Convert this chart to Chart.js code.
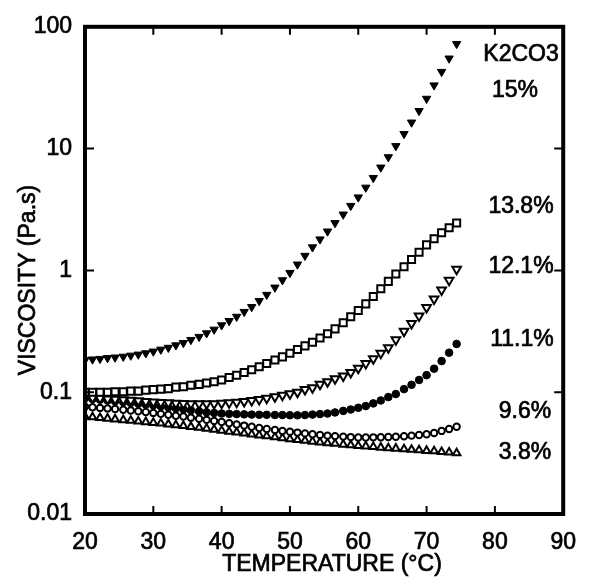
<!DOCTYPE html>
<html>
<head>
<meta charset="utf-8">
<title>Viscosity vs temperature</title>
<script src="https://cdn.jsdelivr.net/npm/chart.js@4.4.1/dist/chart.umd.min.js"></script>
<style>
  body { margin: 0; background: #fff; }
  canvas { display: block; }
</style>
</head>
<body>
<canvas id="viscChart" width="591" height="579"></canvas>
<script>

var temps = [
  20.0, 21.1, 22.2, 23.3, 24.4, 25.6, 26.7, 27.8, 28.9, 30.0,
  31.1, 32.2, 33.3, 34.4, 35.5, 36.7, 37.8, 38.9, 40.0, 41.1,
  42.2, 43.3, 44.4, 45.5, 46.6, 47.8, 48.9, 50.0, 51.1, 52.2,
  53.3, 54.4, 55.5, 56.6, 57.8, 58.9, 60.0, 61.1, 62.2, 63.3,
  64.4, 65.5, 66.7, 67.8, 68.9, 70.0, 71.1, 72.2, 73.3, 74.4
];

// viscosity in Pa.s for each K2CO3 concentration
var visc15 = [
  0.184, 0.186, 0.188, 0.191, 0.193, 0.196, 0.200, 0.204, 0.209, 0.216,
  0.224, 0.232, 0.243, 0.254, 0.269, 0.285, 0.305, 0.327, 0.355, 0.385,
  0.417, 0.457, 0.501, 0.562, 0.631, 0.724, 0.832, 0.955, 1.12, 1.32,
  1.55, 1.80, 2.09, 2.45, 2.88, 3.39, 3.98, 4.79, 5.75, 7.00,
  8.51, 10.5, 13.2, 16.4, 20.4, 25.7, 33.1, 42.7, 55.0, 72.4
];
var visc138 = [
  0.100, 0.100, 0.100, 0.100, 0.101, 0.101, 0.102, 0.102, 0.104, 0.105,
  0.106, 0.107, 0.110, 0.111, 0.114, 0.116, 0.119, 0.122, 0.126, 0.132,
  0.138, 0.145, 0.153, 0.162, 0.172, 0.184, 0.195, 0.209, 0.224, 0.240,
  0.257, 0.279, 0.302, 0.331, 0.372, 0.417, 0.468, 0.531, 0.610, 0.708,
  0.813, 0.933, 1.07, 1.23, 1.41, 1.62, 1.82, 2.04, 2.24, 2.45
];
var visc121 = [
  0.0912, 0.0902, 0.0891, 0.0881, 0.0875, 0.0867, 0.0857, 0.0849, 0.0839, 0.0832,
  0.0824, 0.0818, 0.0813, 0.0807, 0.0804, 0.0802, 0.0802, 0.0805, 0.0811, 0.0818,
  0.0828, 0.0839, 0.0855, 0.0873, 0.0893, 0.0916, 0.0942, 0.0970, 0.100, 0.105,
  0.109, 0.116, 0.122, 0.129, 0.136, 0.145, 0.157, 0.172, 0.188, 0.209,
  0.232, 0.269, 0.316, 0.367, 0.422, 0.495, 0.582, 0.692, 0.832, 1.02
];
var visc111 = [
  0.0891, 0.0879, 0.0867, 0.0855, 0.0843, 0.0830, 0.0817, 0.0805, 0.0793, 0.0780,
  0.0766, 0.0752, 0.0738, 0.0724, 0.0711, 0.0697, 0.0684, 0.0675, 0.0668, 0.0664,
  0.0661, 0.0658, 0.0655, 0.0653, 0.0652, 0.0650, 0.0649, 0.0647, 0.0646, 0.0649,
  0.0655, 0.0661, 0.0668, 0.0682, 0.0702, 0.0721, 0.0745, 0.0769, 0.0809, 0.0855,
  0.0912, 0.0966, 0.106, 0.115, 0.126, 0.138, 0.156, 0.180, 0.211, 0.249
];
var visc96 = [
  0.0759, 0.0752, 0.0743, 0.0736, 0.0728, 0.0718, 0.0708, 0.0697, 0.0687, 0.0676,
  0.0664, 0.0653, 0.0641, 0.0631, 0.0618, 0.0605, 0.0593, 0.0581, 0.0569, 0.0556,
  0.0543, 0.0532, 0.0520, 0.0508, 0.0499, 0.0489, 0.0481, 0.0473, 0.0466, 0.0459,
  0.0452, 0.0446, 0.0440, 0.0436, 0.0432, 0.0428, 0.0425, 0.0425, 0.0426, 0.0427,
  0.0429, 0.0431, 0.0435, 0.0440, 0.0445, 0.0452, 0.0462, 0.0481, 0.0499, 0.0521
];
var visc38 = [
  0.0631, 0.0624, 0.0615, 0.0608, 0.0600, 0.0592, 0.0585, 0.0577, 0.0570, 0.0562,
  0.0555, 0.0546, 0.0537, 0.0530, 0.0521, 0.0512, 0.0504, 0.0494, 0.0484, 0.0475,
  0.0468, 0.0459, 0.0451, 0.0443, 0.0436, 0.0428, 0.0420, 0.0412, 0.0406, 0.0400,
  0.0394, 0.0388, 0.0382, 0.0378, 0.0372, 0.0368, 0.0363, 0.0360, 0.0356, 0.0352,
  0.0348, 0.0345, 0.0341, 0.0338, 0.0335, 0.0331, 0.0328, 0.0324, 0.0321, 0.0316
];

var xTickValues = [20, 30, 40, 50, 60, 70, 80, 90];
var yTickValues = [0.01, 0.1, 1, 10, 100];
var seriesNames = ['15%', '13.8%', '12.1%', '11.1%', '9.6%', '3.8%'];

var fontFamily = '"Liberation Sans", Arial, Helvetica, sans-serif';

function toPoints(values) {
  var pts = [];
  for (var i = 0; i < temps.length; i++) {
    pts.push({ x: temps[i], y: values[i] });
  }
  return pts;
}

function makeSet(name, values, style, rotation, radius, filled) {
  return {
    label: name,
    data: toPoints(values),
    showLine: false,
    pointStyle: style,
    rotation: rotation,
    pointRadius: radius,
    pointBorderWidth: filled ? 1 : 2,
    pointBorderColor: '#000',
    pointBackgroundColor: filled ? '#000' : '#fff'
  };
}

function boldText(c, text, x, y) {
  c.fillText(text, x, y);
  c.strokeText(text, x, y);
}

// frame, inward ticks, axis titles and curve labels
var framePlugin = {
  id: 'frame',
  afterDatasetsDraw: function(chart) {
    var c = chart.ctx;
    var a = chart.chartArea;
    var xs = chart.scales.x;
    var ys = chart.scales.y;
    c.save();
    c.strokeStyle = '#000';
    c.lineWidth = 2;
    var i, px, py;
    for (i = 1; i < xTickValues.length - 1; i++) {
      px = xs.getPixelForValue(xTickValues[i]);
      c.beginPath();
      c.moveTo(px, a.bottom); c.lineTo(px, a.bottom - 8);
      c.moveTo(px, a.top); c.lineTo(px, a.top + 8);
      c.stroke();
    }
    for (i = 1; i < yTickValues.length - 1; i++) {
      py = ys.getPixelForValue(yTickValues[i]);
      c.beginPath();
      c.moveTo(a.left, py); c.lineTo(a.left + 9, py);
      c.moveTo(a.right, py); c.lineTo(a.right - 9, py);
      c.stroke();
    }
    c.lineWidth = 4;
    c.strokeRect(a.left, a.top, a.right - a.left, a.bottom - a.top);
    c.restore();
  },
  afterDraw: function(chart) {
    var c = chart.ctx;
    c.save();
    c.fillStyle = '#000';
    c.strokeStyle = '#000';
    c.lineWidth = 0.7;
    c.textAlign = 'center';
    c.textBaseline = 'middle';
    c.font = '23px ' + fontFamily;
    boldText(c, 'TEMPERATURE (\u00B0C)', 332, 565);
    c.save();
    c.translate(29, 280);
    c.rotate(-Math.PI / 2);
    boldText(c, 'VISCOSITY (Pa.s)', 0, 0);
    c.restore();

    boldText(c, 'K2CO3', 521, 55);
    var labelPos = [[515, 91], [521, 207], [521, 267], [522, 340], [525, 412], [525, 453]];
    for (var i = 0; i < seriesNames.length; i++) {
      boldText(c, seriesNames[i], labelPos[i][0], labelPos[i][1]);
    }
    c.restore();
  }
};

var ctx = document.getElementById('viscChart').getContext('2d');

var viscChart = new Chart(ctx, {
  type: 'scatter',
  data: {
    datasets: [
      makeSet(seriesNames[0], visc15, 'triangle', 180, 4.8, true),
      makeSet(seriesNames[1], visc138, 'rect', 0, 5, false),
      makeSet(seriesNames[2], visc121, 'triangle', 180, 5, false),
      makeSet(seriesNames[3], visc111, 'circle', 0, 3.8, true),
      makeSet(seriesNames[4], visc96, 'circle', 0, 3.2, false),
      makeSet(seriesNames[5], visc38, 'triangle', 0, 4.4, false)
    ]
  },
  options: {
    responsive: false,
    animation: false,
    layout: { padding: { left: 0, right: 14, top: 23, bottom: 0 } },
    plugins: {
      legend: { display: false },
      tooltip: { enabled: false }
    },
    scales: {
      x: {
        type: 'linear',
        min: 20,
        max: 90,
        afterFit: function(scale) { scale.height = 65; },
        afterBuildTicks: function(scale) {
          scale.ticks = xTickValues.map(function(v) { return { value: v }; });
        },
        grid: { display: false, drawTicks: false },
        border: { display: false },
        ticks: {
          padding: 15,
          color: '#000',
          textStrokeColor: '#000',
          textStrokeWidth: 0.7,
          autoSkip: false,
          maxRotation: 0,
          font: { family: fontFamily, size: 23 }
        }
      },
      y: {
        type: 'logarithmic',
        min: 0.01,
        max: 100,
        afterFit: function(scale) { scale.width = 85; },
        afterBuildTicks: function(scale) {
          scale.ticks = yTickValues.map(function(v) { return { value: v }; });
        },
        grid: { display: false, drawTicks: false },
        border: { display: false },
        ticks: {
          padding: 13,
          color: '#000',
          textStrokeColor: '#000',
          textStrokeWidth: 0.7,
          autoSkip: false,
          font: { family: fontFamily, size: 23 },
          callback: function(value) { return String(value); }
        }
      }
    }
  },
  plugins: [framePlugin]
});
</script>
</body>
</html>
